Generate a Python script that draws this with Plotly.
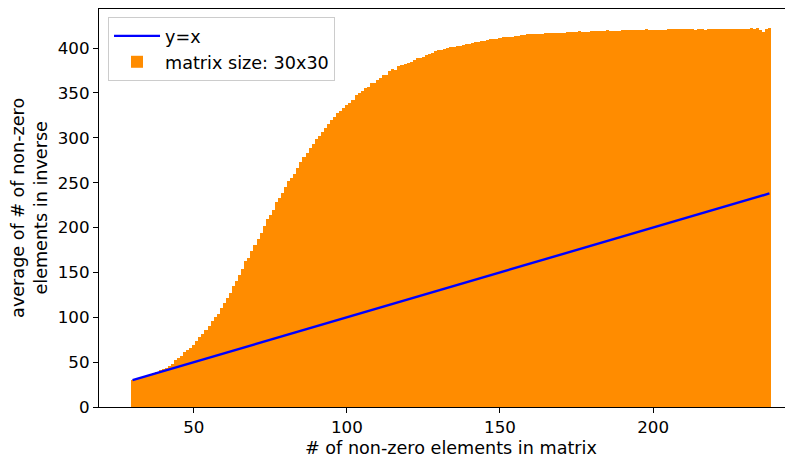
import plotly.graph_objects as go

# ---- data ----
nnz_matrix = list(range(30, 239))  # x categories: 30 .. 238
avg_nnz_inverse = [
    30.2, 31.0, 32.1, 33.2, 34.3, 35.5, 36.8, 38.1, 39.5, 40.8,
    42.0, 43.5, 46.0, 48.2, 52.0, 54.7, 57.2, 61.2, 63.6, 66.0,
    69.0, 74.0, 77.8, 81.7, 86.3, 90.8, 95.6, 100.2, 104.0, 110.0,
    116.2, 121.8, 127.3, 135.0, 140.9, 147.5, 154.2, 162.2, 166.3, 174.3,
    181.0, 187.6, 194.3, 202.0, 209.9, 214.4, 219.9, 228.8, 233.3, 238.9,
    245.5, 252.2, 255.5, 260.0, 266.7, 273.4, 278.9, 283.4, 289.0, 293.4,
    299.0, 302.3, 306.9, 311.4, 315.2, 319.5, 323.6, 327.2, 330.4, 333.4,
    336.4, 339.3, 342.4, 348.0, 349.5, 352.5, 356.0, 357.0, 361.2, 361.4,
    364.7, 367.1, 370.3, 370.3, 374.3, 376.8, 375.9, 380.3, 380.8, 382.5,
    382.9, 384.8, 387.0, 389.2, 389.2, 390.3, 392.0, 394.0, 395.1, 396.3,
    397.5, 398.1, 399.2, 400.3, 401.4, 401.4, 402.5, 402.5, 403.7, 404.8,
    404.8, 405.9, 407.0, 407.0, 408.1, 408.1, 409.2, 410.4, 410.4, 410.4,
    411.5, 412.6, 412.6, 412.6, 412.6, 413.2, 413.7, 414.2, 414.8, 415.3,
    415.9, 415.5, 415.3, 416.0, 416.0, 417.0, 416.3, 417.0, 417.0, 417.0,
    417.0, 417.0, 418.0, 418.0, 418.0, 418.0, 419.2, 418.2, 418.2, 418.2,
    419.2, 419.2, 419.2, 419.2, 419.2, 420.3, 419.2, 419.2, 419.2, 419.2,
    420.3, 420.3, 420.3, 420.3, 420.3, 420.3, 420.3, 420.3, 421.4, 420.3,
    420.3, 420.3, 420.3, 420.3, 420.3, 421.4, 421.4, 421.4, 421.4, 421.4,
    421.4, 421.4, 421.4, 421.4, 420.3, 421.4, 421.4, 420.3, 421.4, 421.4,
    421.4, 421.4, 421.4, 421.4, 421.4, 421.4, 421.4, 421.4, 421.4, 421.4,
    421.4, 421.4, 422.5, 421.4, 422.5, 420.3, 418.3, 421.4, 422.5,
]
assert len(avg_nnz_inverse) == len(nnz_matrix)

line_x = [30, 238]
line_y = [30, 238]

y_ticks = [0, 50, 100, 150, 200, 250, 300, 350, 400]
x_ticks = [50, 100, 150, 200]

FONT = "DejaVu Sans"
TICK_FS = 16.7
LABEL_FS = 17.6

fig = go.Figure()
fig.add_trace(go.Bar(
    x=nnz_matrix, y=avg_nnz_inverse, width=1.0,
    marker=dict(color="#FF8C00", line=dict(width=0)),
    name="matrix size: 30x30",
))
fig.add_trace(go.Scatter(
    x=line_x, y=line_y, mode="lines",
    line=dict(color="#0000FF", width=2.4),
    name="y=x",
))

# page body adds an 8px offset; figure coords = screen - 8
fig.update_layout(
    width=785, height=452,
    margin=dict(l=91, r=0, t=1, b=52.5),
    paper_bgcolor="white", plot_bgcolor="white",
    font=dict(family=FONT, size=TICK_FS, color="#000000"),
    bargap=0,
    showlegend=True,
    legend=dict(
        x=0.013, y=0.98, xanchor="left", yanchor="top",
        bgcolor="rgba(255,255,255,0.8)", bordercolor="#cccccc", borderwidth=1,
        traceorder="reversed", font=dict(family=FONT, size=LABEL_FS),
        itemwidth=46, tracegroupgap=0,
    ),
    xaxis=dict(
        range=[19.05, 245.7], tickvals=x_ticks, ticks="outside", ticklen=5,
        tickwidth=1.2, tickcolor="#000", showline=True, linecolor="#000",
        linewidth=1.2, mirror=True, showgrid=False, zeroline=False,
        tickfont=dict(family=FONT, size=TICK_FS),
    ),
    yaxis=dict(
        range=[0, 443.6], tickvals=y_ticks, ticks="outside", ticklen=5,
        tickwidth=1.2, tickcolor="#000", showline=True, linecolor="#000",
        linewidth=1.2, mirror=False, showgrid=False, zeroline=False,
        tickfont=dict(family=FONT, size=TICK_FS),
    ),
    annotations=[
        dict(text="# of non-zero elements in matrix", xref="paper", yref="paper",
             x=0.5078, y=-0.104, xanchor="center", yanchor="middle",
             showarrow=False, font=dict(family=FONT, size=LABEL_FS)),
        dict(text="average of # of non-zero<br>elements in inverse", xref="paper",
             yref="paper", x=-0.101, y=0.5, xanchor="center", yanchor="middle",
             textangle=-90, showarrow=False, font=dict(family=FONT, size=LABEL_FS)),
    ],
)

fig.write_html("out.html")
